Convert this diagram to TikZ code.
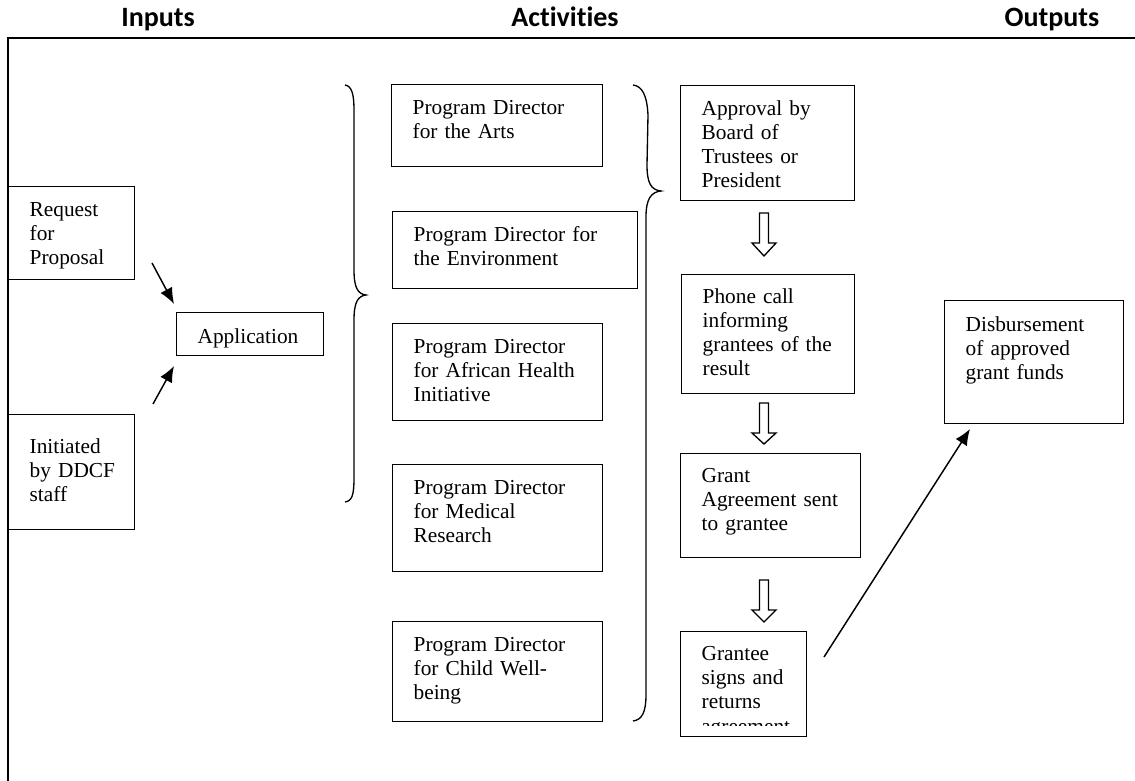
\documentclass[tikz,border=0pt]{standalone}
\usepackage{fontspec}
\setmainfont{Liberation Serif}
\newfontfamily\headfont[Ligatures=NoCommon]{Carlito}
\usepackage{tikz}
\usetikzlibrary{arrows.meta}

\tikzset{
	stage/.style={draw, line width=1pt, anchor=north west, align=left,
		inner xsep=15.75pt, inner ysep=0pt, text height=22.5pt,
		font=\fontsize{16}{18}\selectfont},
	head/.style={anchor=base, font=\headfont\bfseries\fontsize{21}{23}\selectfont},
	link/.style={->, line width=1.1pt},
}

\begin{document}
\begin{tikzpicture}[x=0.75pt, y=-0.75pt, >={Latex[length=12pt,width=10pt]}]
	%\draw [help lines, step=100] (0,0) grid (1135,781);
	\useasboundingbox (0,0) rectangle (1135,781);
	\node [head] (hin) at (158,27) {Inputs};
	\node [head] (hact) at (565,27) {Activities};
	\node [head] (hout) at (1052,27) {Outputs};
	\draw [line width=1.6pt] (8,781) -- (8,38) -- (1135,38);

	\node [stage, text width=63pt, text depth=47.25pt] (rfp) at (8,186) {Request\\for\\Proposal};
	\node [stage, text width=63pt, text height=29.25pt, text depth=57pt] (ddcf) at (8,414) {Initiated\\by~DDCF\\staff};
	\node [stage, text width=78.75pt, text height=23.25pt, text depth=9pt] (app) at (176,312) {Application};
	\coordinate (in1) at (152,263);
	\coordinate (in2) at (153,404);
	\coordinate (at1) at (174,304);
	\coordinate (at2) at (174,366);
	\draw [link] (in1) -- (at1);
	\draw [link] (in2) -- (at2);

	\draw [line width=1pt] (345,85) .. controls (352,86) and (354,95) .. (354,110) -- (354,270)
		.. controls (354,288) and (358,294) .. (366,295) .. controls (358,296) and (354,302) .. (354,320)
		-- (354,478) .. controls (354,495) and (352,501) .. (345,502);

	\node [stage, text width=126.75pt, text depth=39pt] (pdarts) at (391,84) {Program Director\\for the Arts};
	\node [stage, text width=152.25pt, text depth=35.25pt] (pdenv) at (392,211) {Program Director for\\the Environment};
	\node [stage, text width=126pt, text depth=50.25pt] (pdafr) at (392,323) {Program Director\\for African Health\\Initiative};
	\node [stage, text width=126pt, text depth=57.75pt] (pdmed) at (392,464) {Program Director\\for Medical\\Research};
	\node [stage, text width=126pt, text depth=52.5pt] (pdchild) at (392,621) {Program Director\\for Child Well-\\being};

	\draw [line width=1pt] (633,85) .. controls (642,86) and (647,95) .. (648,115) -- (647,165)
		.. controls (647,183) and (651,190) .. (661,191) .. controls (651,192) and (646,199) .. (646,217)
		-- (646,695) .. controls (646,712) and (642,720) .. (633,721);

	\node [stage, text width=99pt, text depth=63.75pt] (appr) at (680,85) {Approval by\\Board of\\Trustees or\\President};
	\node [stage, text width=98.25pt, text height=21.75pt, text depth=67.5pt] (phone) at (681,274) {Phone call\\informing\\grantees of the\\result};
	\node [stage, text width=103.5pt, text height=21.75pt, text depth=56.25pt] (grant) at (680,453) {Grant\\Agreement sent\\to grantee};
	\node [stage, text width=63pt, text height=21.75pt, text depth=57pt] (signs) at (680,631) {Grantee\\signs~and\\returns};
	\begin{scope}
		\clip (680,631) rectangle (806,725);
		\node [anchor=base west, inner sep=0pt, font=\fontsize{16}{18}\selectfont] (agree) at (701,733) {agreement};
	\end{scope}
	\foreach \t/\h/\e in {213/243/256, 403/433/444, 580/610/622}
		\draw [line width=1pt] (759.5,\t) -- (768.5,\t) -- (768.5,\h) -- (776,\h) -- (764,\e)
			-- (752,\h) -- (759.5,\h) -- cycle;

	\node [stage, text width=102.75pt, text height=23.25pt, text depth=69pt] (disb) at (944,300) {Disbursement\\of approved\\grant funds};
	\coordinate (out1) at (824,657);
	\coordinate (out2) at (970,429);
	\draw [link] (out1) -- (out2);
\end{tikzpicture}
\end{document}
